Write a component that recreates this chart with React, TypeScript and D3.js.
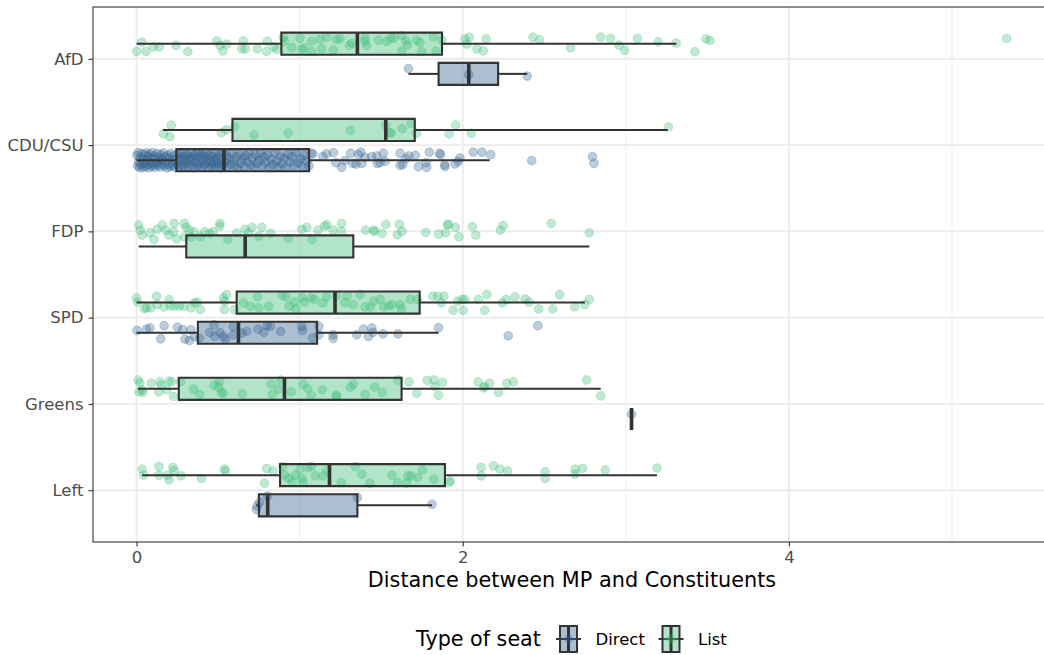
import { useEffect, useRef } from "react";
import * as d3 from "d3";

const parties = ["AfD", "CDU/CSU", "FDP", "SPD", "Greens", "Left"];
const seatTypes = ["Direct", "List"];
const seatColors = ["#2f5f8f", "#3cbb75"];
const xTicks = [0, 2, 4];
const xMinorTicks = [1, 3, 5];
const xDomain = [-0.267, 5.607];

// box statistics; lane = dodge slot the box sits in
const boxStats = [
  { party: "AfD", type: "List", lane: "List", lo: 0.0, q1: 0.888, med: 1.354, q3: 1.873, hi: 3.31 },
  { party: "AfD", type: "Direct", lane: "Direct", lo: 1.667, q1: 1.852, med: 2.037, q3: 2.217, hi: 2.396 },
  { party: "CDU/CSU", type: "List", lane: "List", lo: 0.162, q1: 0.588, med: 1.528, q3: 1.706, hi: 3.257 },
  { party: "CDU/CSU", type: "Direct", lane: "Direct", lo: 0.0, q1: 0.244, med: 0.536, q3: 1.058, hi: 2.165 },
  { party: "FDP", type: "List", lane: "Direct", lo: 0.013, q1: 0.305, med: 0.666, q3: 1.329, hi: 2.776 },
  { party: "SPD", type: "List", lane: "List", lo: 0.0, q1: 0.614, med: 1.217, q3: 1.736, hi: 2.749 },
  { party: "SPD", type: "Direct", lane: "Direct", lo: 0.0, q1: 0.376, med: 0.625, q3: 1.107, hi: 1.852 },
  { party: "Greens", type: "List", lane: "List", lo: 0.01, q1: 0.259, med: 0.907, q3: 1.625, hi: 2.846 },
  { party: "Greens", type: "Direct", lane: "Direct", lo: 3.035, q1: 3.035, med: 3.035, q3: 3.035, hi: 3.035 },
  { party: "Left", type: "List", lane: "List", lo: 0.034, q1: 0.88, med: 1.183, q3: 1.891, hi: 3.191 },
  { party: "Left", type: "Direct", lane: "Direct", lo: 0.735, q1: 0.75, med: 0.804, q3: 1.354, hi: 1.812 },
];

// jittered MPs: [distance, vertical jitter (-1..1)]
const afdList = [
  [0.032, -0.2], [0.001, 0.96], [0.058, 0.96], [0.103, 0.39], [0.14, 0.39], [0.242, 0.21], [0.314, 1.0],
  [0.492, -0.36], [0.512, 0.21], [0.529, 0.89], [0.553, 0.05], [0.655, -0.36], [0.645, 0.64], [0.667, 0.64],
  [0.741, 0.64], [0.802, -0.29], [0.798, 0.96], [0.843, 0.39], [0.86, 0.71], [0.9, -0.79], [0.906, -0.29],
  [0.952, 0.46], [1.002, -0.7], [1.013, 0.71], [1.027, 0.55], [1.074, -0.29], [1.074, 1.0], [1.125, -0.54],
  [1.136, 0.64], [1.166, -0.86], [1.207, 0.8], [1.227, -0.54], [1.248, -0.61], [1.305, 0.21], [1.319, -0.04],
  [1.401, -0.7], [1.401, -0.29], [1.411, 0.21], [1.483, -0.45], [1.534, -0.29], [1.559, -0.7], [1.579, -0.7],
  [1.626, -1.0], [1.652, -0.36], [1.66, 0.14], [1.626, 0.89], [1.718, -0.45], [1.738, -0.11], [1.749, 1.0],
  [1.82, -0.86], [1.836, 0.89], [1.873, -0.45], [2.014, -0.61], [2.04, -0.79], [2.025, 0.05], [2.086, 0.64],
  [2.126, 0.89], [2.143, -0.61], [2.431, -0.82], [2.472, -0.49], [2.661, 0.51], [2.846, -0.82], [2.907, -0.66],
  [2.957, 0.18], [2.993, 0.84], [3.071, -0.66], [3.199, -0.24], [3.308, -0.08], [3.424, 1.0], [3.492, -0.61],
  [3.516, -0.41], [5.335, -0.66],
];
const afdDirect = [[1.667, -0.66], [2.037, 0.1], [2.396, 0.27]];

const cduList = [
  [0.213, -0.59], [0.165, 0.5], [0.204, 0.84], [0.52, 0.34], [0.551, 0], [0.602, -0.41], [0.719, 0.63],
  [0.929, 0.41], [1.311, 0.09], [1.528, -0.59], [1.552, 0.34], [1.562, 0.41], [1.63, -0.16], [1.685, -0.84],
  [1.716, 0.41], [1.916, 0.5], [1.957, -0.63], [2.053, 0.41], [3.261, -0.38],
];
const cduDirect = [
  [0.003, -0.6], [0.006, 0.7], [0.01, -0.95], [0.012, 0.2], [0.018, 0.9], [0.021, -0.3], [0.027, 0.55],
  [0.031, -0.8], [0.036, 0.95], [0.04, -0.1], [0.045, 0.4], [0.049, -0.65], [0.053, 0.8], [0.058, -0.9],
  [0.062, 0.1], [0.067, 0.6], [0.071, -0.45], [0.076, 0.95], [0.08, -0.75], [0.085, 0.3], [0.089, -0.2],
  [0.094, 0.75], [0.098, -0.95], [0.103, 0.5], [0.108, -0.5], [0.113, 0.9], [0.117, -0.15], [0.122, 0.35],
  [0.127, -0.85], [0.131, 0.65], [0.136, -0.35], [0.141, 0.05], [0.146, 0.85], [0.15, -0.7], [0.155, 0.45],
  [0.16, -0.05], [0.165, -0.9], [0.17, 0.7], [0.175, -0.4], [0.18, 0.2], [0.186, 0.95], [0.191, -0.6],
  [0.196, 0.55], [0.201, -0.25], [0.207, 0.8], [0.212, -0.85], [0.218, 0.15], [0.223, 0.6], [0.229, -0.55],
  [0.234, 0.9], [0.24, -0.1], [0.248, 0.45], [0.253, -0.8], [0.259, 0.75], [0.264, -0.3], [0.27, 0.1],
  [0.276, -0.95], [0.281, 0.6], [0.287, -0.5], [0.292, 0.9], [0.298, -0.15], [0.304, 0.35], [0.31, -0.7],
  [0.316, 0.8], [0.322, -0.4], [0.328, 0.05], [0.334, -0.9], [0.34, 0.55], [0.346, -0.2], [0.352, 0.95],
  [0.358, -0.6], [0.364, 0.25], [0.37, -0.85], [0.376, 0.7], [0.382, -0.35], [0.388, 0.45], [0.394, -0.75],
  [0.4, 0.85], [0.406, 0.0], [0.412, -0.55], [0.418, 0.6], [0.424, -0.95], [0.43, 0.3], [0.436, -0.25],
  [0.442, 0.9], [0.448, -0.65], [0.454, 0.15], [0.46, 0.75], [0.466, -0.45], [0.472, 0.5], [0.478, -0.85],
  [0.484, 0.05], [0.49, 0.8], [0.496, -0.3], [0.502, 0.4], [0.508, -0.7], [0.514, 0.95], [0.52, -0.1],
  [0.526, 0.6], [0.532, -0.9], [0.541, 0.25], [0.55, -0.6], [0.558, 0.85], [0.567, -0.2], [0.576, 0.5],
  [0.585, -0.9], [0.594, 0.1], [0.603, 0.7], [0.612, -0.45], [0.621, 0.95], [0.631, -0.75], [0.64, 0.35],
  [0.65, -0.15], [0.66, 0.8], [0.669, -0.55], [0.679, 0.2], [0.689, -0.95], [0.699, 0.6], [0.709, -0.3],
  [0.719, 0.9], [0.729, -0.7], [0.739, 0.4], [0.75, 0.0], [0.76, -0.85], [0.771, 0.75], [0.781, -0.4],
  [0.792, 0.3], [0.803, -0.65], [0.814, 0.95], [0.825, -0.1], [0.836, 0.55], [0.847, -0.9], [0.858, 0.15],
  [0.87, 0.8], [0.881, -0.5], [0.893, 0.45], [0.905, -0.25], [0.917, 0.9], [0.929, -0.75], [0.941, 0.2],
  [0.953, -0.45], [0.966, 0.65], [0.978, -0.95], [0.991, 0.35], [1.004, -0.2], [1.017, 0.85], [1.03, -0.6],
  [1.044, 0.1], [1.057, 0.7], [1.07, -0.85], [1.082, -0.78], [1.143, -0.44], [1.164, -0.78], [1.207, -0.94],
  [1.223, 0.31], [1.258, 0.89], [1.278, 0.06], [1.313, -0.86], [1.326, 0.39], [1.346, 0.48], [1.36, -0.69],
  [1.375, -1.0], [1.381, 0.39], [1.401, -0.36], [1.442, -0.44], [1.473, -0.53], [1.476, 0.39], [1.493, 0.31],
  [1.513, -0.86], [1.524, 0.14], [1.616, -0.86], [1.616, 0.64], [1.632, 0.56], [1.652, -0.19], [1.669, -0.53],
  [1.709, -0.61], [1.728, 0.81], [1.775, 0.31], [1.779, 0.89], [1.795, -1.0], [1.857, -0.86], [1.865, -0.69],
  [1.89, 0.56], [1.891, 0.81], [1.953, 0.48], [1.973, 0.14], [1.983, -0.28], [2.065, -1.0], [2.118, -1.0],
  [2.172, -0.69], [2.423, 0.06], [2.795, -0.44], [2.805, 0.39],
];

const fdpList = [
  [0.013, -0.79], [0.023, -0.16], [0.034, 0.46], [0.082, 0.18], [0.107, 1.0], [0.127, -0.25], [0.158, -0.79],
  [0.179, -0.16], [0.2, 0.46], [0.231, -1.0], [0.227, 0.05], [0.247, 0.93], [0.293, -1.0], [0.303, -0.5],
  [0.324, -0.16], [0.293, 0.68], [0.334, 0.68], [0.355, 0.05], [0.392, 0.68], [0.418, 0.05], [0.448, 0.25],
  [0.469, 0.05], [0.511, -1.0], [0.511, -0.66], [0.559, 1.0], [0.614, 0.18], [0.666, -0.25], [0.687, 0.18],
  [0.708, -0.5], [0.749, 0.59], [0.769, -0.5], [0.822, 0.25], [0.931, 0.88], [1.014, -0.25], [1.044, -0.5],
  [1.077, 1.0], [1.112, -0.16], [1.153, -0.66], [1.167, -0.83], [1.205, -0.16], [1.257, -1.0], [1.257, 0],
  [1.404, -0.16], [1.454, -0.16], [1.458, 0], [1.505, 0.25], [1.529, -0.88], [1.611, -0.88], [1.599, 0.43],
  [1.628, 0], [1.773, 0.13], [1.852, 0.34], [1.895, 0.18], [1.906, -0.88], [1.914, -0.83], [1.955, -0.5],
  [1.976, 0.68], [2.059, -0.58], [2.08, 0.46], [2.231, -0.16], [2.248, -0.75], [2.542, -1.0], [2.776, 0.18],
];

const spdList = [
  [0.0, -0.59], [0.007, -0.04], [0.048, 0.75], [0.061, 0.66], [0.086, 0.66], [0.123, -0.79], [0.127, 0.25],
  [0.169, 0.54], [0.2, -0.38], [0.206, 0.38], [0.231, 0.46], [0.262, 0.46], [0.289, 0.46], [0.334, 0.66],
  [0.355, 0.04], [0.372, -0.04], [0.392, 0.88], [0.532, -0.59], [0.552, -1.0], [0.541, -0.16], [0.538, 0.88],
  [0.6, 0.88], [0.655, 0.04], [0.697, 0.46], [0.749, 0.66], [0.742, -0.71], [0.811, 0.46], [0.894, -0.88],
  [0.915, -0.71], [0.936, 0.46], [0.967, -0.04], [0.977, 0.79], [1.015, -0.59], [1.029, -0.04], [1.07, -0.59],
  [1.091, -0.38], [1.143, 0.04], [1.164, -0.71], [1.226, -0.79], [1.278, 0.04], [1.292, -0.79], [1.329, 0.25],
  [1.371, -1.0], [1.402, 0.54], [1.433, 0.54], [1.454, -0.16], [1.495, -0.38], [1.516, 0.54], [1.547, 0.38],
  [1.568, 0.25], [1.616, 0.25], [1.624, 0.79], [1.677, -0.38], [1.723, -0.38], [1.817, -0.79], [1.847, -0.79],
  [1.868, 0.04], [1.885, -0.79], [1.941, 0.96], [1.968, -0.16], [1.997, -0.38], [2.003, 0.96], [2.013, -0.38],
  [2.096, -0.38], [2.134, 0.96], [2.148, -1.0], [2.242, 0.04], [2.266, -0.38], [2.32, -0.71], [2.383, -0.46],
  [2.407, -0.04], [2.465, 0.79], [2.552, 0.79], [2.594, -1.0], [2.687, 0.54], [2.749, 0.25], [2.776, -0.38],
];
const spdDirect = [
  [0.003, -0.29], [0.061, -0.46], [0.082, -0.59], [0.148, 0.75], [0.169, -0.88], [0.251, -0.71], [0.283, -0.38],
  [0.297, 0.79], [0.324, 0.96], [0.334, -0.38], [0.355, 0.46], [0.386, 0.66], [0.448, -0.04], [0.475, -1.0],
  [0.479, 0.46], [0.511, -0.04], [0.532, 0.46], [0.546, 0.79], [0.593, -0.79], [0.593, 0.25], [0.646, 0.04],
  [0.676, -0.16], [0.745, -0.46], [0.78, -0.04], [0.801, -0.88], [0.822, -0.79], [0.884, -0.16], [1.014, -0.79],
  [1.018, -0.29], [1.08, 0.63], [1.118, -0.79], [1.118, 0.25], [1.205, 0.25], [1.205, 0.71], [1.35, 0.25],
  [1.392, -0.46], [1.422, 0.46], [1.443, -0.59], [1.45, -0.04], [1.511, 0.13], [1.603, 0.13], [1.852, -0.63],
  [2.279, 0.38], [2.461, -0.88],
];

const greensList = [
  [0.01, -1.1], [0.02, -0.71], [0.015, 0.38], [0.034, 0.13], [0.039, 0.45], [0.09, -0.71], [0.144, -0.88],
  [0.151, -0.46], [0.137, 0.38], [0.199, -0.96], [0.215, -0.88], [0.185, 0.13], [0.227, 0.95], [0.269, -0.88],
  [0.349, 0.04], [0.386, 0.7], [0.476, -0.46], [0.508, -0.88], [0.504, -0.21], [0.521, 0.45], [0.532, 0.54],
  [0.649, 0.63], [0.826, -0.59], [0.833, 0.7], [0.884, -1.1], [0.872, 0.04], [0.95, 0.38], [1.021, -0.59],
  [1.049, -0.05], [1.072, 0.79], [1.138, 0.13], [1.225, 0.79], [1.227, 0.95], [1.312, -0.21], [1.33, -0.59],
  [1.401, 0.7], [1.46, -0.21], [1.507, 0.45], [1.603, -1.1], [1.671, -0.88], [1.719, 0.54], [1.782, -1.05],
  [1.824, -1.1], [1.829, -0.3], [1.852, 0.79], [1.876, -0.8], [2.094, -0.88], [2.129, -0.13], [2.134, -0.3],
  [2.165, -0.71], [2.219, 0.45], [2.27, -0.71], [2.31, -0.88], [2.759, -1.1], [2.846, 0.88],
];
const greensDirect = [[3.035, -0.6]];

const leftList = [
  [0.034, -0.75], [0.044, 0], [0.137, -1.09], [0.137, 0], [0.191, 0], [0.199, 0.59], [0.222, -0.96],
  [0.231, -0.54], [0.273, 0.09], [0.398, 0.41], [0.539, -0.75], [0.544, -0.54], [0.785, 1.0], [0.798, -0.84],
  [0.838, -0.54], [0.896, -1.09], [0.908, 0], [0.931, 0.41], [0.955, 0.84], [0.974, 0], [1.002, -0.75],
  [1.013, 0.41], [1.021, 0.91], [1.049, -0.96], [1.072, -1.09], [1.096, 0.09], [1.143, 0.09], [1.166, -0.54],
  [1.256, 0.91], [1.342, -1.09], [1.382, -0.13], [1.429, 1.0], [1.566, 0], [1.601, 0.91], [1.655, 1.0],
  [1.664, 0.09], [1.683, 0.09], [1.725, 0.29], [1.754, -0.66], [1.824, 0.5], [1.918, 0.91], [1.923, 0.71],
  [2.113, -0.96], [2.113, 0.09], [2.188, -1.16], [2.228, -0.75], [2.275, -0.54], [2.505, -0.41], [2.505, 0.41],
  [2.689, -0.75], [2.689, -0.13], [2.735, -0.84], [2.874, -0.63], [3.191, -0.88],
];
const leftDirect = [[0.735, 0.5], [0.739, 0.08], [0.755, -0.41], [0.804, -1.16], [1.354, -0.96], [1.812, -0.13]];

const pointGroups = [
  { party: "AfD", type: "List", lane: "List", values: afdList },
  { party: "AfD", type: "Direct", lane: "Direct", values: afdDirect },
  { party: "CDU/CSU", type: "List", lane: "List", values: cduList },
  { party: "CDU/CSU", type: "Direct", lane: "Direct", values: cduDirect },
  { party: "FDP", type: "List", lane: "center", values: fdpList },
  { party: "SPD", type: "List", lane: "List", values: spdList },
  { party: "SPD", type: "Direct", lane: "Direct", values: spdDirect },
  { party: "Greens", type: "List", lane: "List", values: greensList },
  { party: "Greens", type: "Direct", lane: "Direct", values: greensDirect },
  { party: "Left", type: "List", lane: "List", values: leftList },
  { party: "Left", type: "Direct", lane: "Direct", values: leftDirect },
];

const width = 1044;
const height = 655;
const panel = { left: 93, right: 1051, top: 7, bottom: 542 };
const font = "'DejaVu Sans', sans-serif";

export default function App() {
  const svgRef = useRef<SVGSVGElement>(null);

  useEffect(() => {
    const svg = d3.select(svgRef.current);
    svg.selectAll("*").remove();

    const x = d3.scaleLinear().domain(xDomain).range([panel.left, panel.right]);
    const y = d3.scalePoint().domain(parties).range([panel.top, panel.bottom]).padding(0.6);
    const step = y.step();
    const lane = d3
      .scalePoint()
      .domain(["List", "center", "Direct"])
      .range([-0.175 * step, 0.175 * step]);
    const boxHalf = 0.128 * step;
    const jitter = 0.093 * step;
    const color = d3.scaleOrdinal<string>().domain(seatTypes).range(seatColors);

    // panel background + grid
    svg.append("rect")
      .attr("x", panel.left).attr("y", panel.top)
      .attr("width", panel.right - panel.left).attr("height", panel.bottom - panel.top)
      .attr("fill", "white");

    svg.append("g").selectAll("line").data(xMinorTicks).join("line")
      .attr("x1", (d) => x(d)).attr("x2", (d) => x(d))
      .attr("y1", panel.top).attr("y2", panel.bottom)
      .attr("stroke", "#ebebeb").attr("stroke-width", 0.9);

    svg.append("g").selectAll("line").data(xTicks).join("line")
      .attr("x1", (d) => x(d)).attr("x2", (d) => x(d))
      .attr("y1", panel.top).attr("y2", panel.bottom)
      .attr("stroke", "#ebebeb").attr("stroke-width", 1.8);

    svg.append("g").selectAll("line").data(parties).join("line")
      .attr("x1", panel.left).attr("x2", panel.right)
      .attr("y1", (d) => y(d)!).attr("y2", (d) => y(d)!)
      .attr("stroke", "#ebebeb").attr("stroke-width", 1.8);

    // jittered points
    const pts = svg.append("g");
    pointGroups.forEach((g) => {
      const cy = y(g.party)! + lane(g.lane)!;
      pts.selectAll(null).data(g.values).enter().append("circle")
        .attr("cx", (d) => x(d[0]))
        .attr("cy", (d) => cy + d[1] * jitter)
        .attr("r", 4.4)
        .attr("fill", color(g.type))
        .attr("fill-opacity", 0.32)
        .attr("stroke", color(g.type))
        .attr("stroke-opacity", 0.32)
        .attr("stroke-width", 0.8);
    });

    // boxplots
    const boxes = svg.append("g").selectAll("g").data(boxStats).join("g");
    const cyOf = (d) => y(d.party)! + lane(d.lane)!;

    boxes.append("line")
      .attr("x1", (d) => x(d.lo)).attr("x2", (d) => x(d.q1))
      .attr("y1", cyOf).attr("y2", cyOf)
      .attr("stroke", "#333333").attr("stroke-width", 2);
    boxes.append("line")
      .attr("x1", (d) => x(d.q3)).attr("x2", (d) => x(d.hi))
      .attr("y1", cyOf).attr("y2", cyOf)
      .attr("stroke", "#333333").attr("stroke-width", 2);
    boxes.append("path")
      .attr("d", (d) => {
        const c = cyOf(d);
        return `M${x(d.q1)},${c - boxHalf}H${x(d.q3)}V${c + boxHalf}H${x(d.q1)}Z`;
      })
      .attr("fill", (d) => color(d.type))
      .attr("fill-opacity", 0.4)
      .attr("stroke", "#333333")
      .attr("stroke-width", 2.1);
    boxes.append("line")
      .attr("x1", (d) => x(d.med)).attr("x2", (d) => x(d.med))
      .attr("y1", (d) => cyOf(d) - boxHalf).attr("y2", (d) => cyOf(d) + boxHalf)
      .attr("stroke", "#333333").attr("stroke-width", 3.6);

    // panel border
    svg.append("rect")
      .attr("x", panel.left).attr("y", panel.top)
      .attr("width", panel.right - panel.left).attr("height", panel.bottom - panel.top)
      .attr("fill", "none").attr("stroke", "#333333").attr("stroke-width", 1.1);

    // axes
    const xAxis = svg.append("g")
      .attr("transform", `translate(0,${panel.bottom})`)
      .call(d3.axisBottom(x).tickValues(xTicks).tickFormat(d3.format("d")).tickSize(4.5).tickPadding(5));
    const yAxis = svg.append("g")
      .attr("transform", `translate(${panel.left},0)`)
      .call(d3.axisLeft(y).tickSize(4.5).tickPadding(5));
    [xAxis, yAxis].forEach((a) => {
      a.select(".domain").remove();
      a.selectAll("line").attr("stroke", "#333333").attr("stroke-width", 1.1);
      a.selectAll("text").attr("fill", "#4d4d4d").style("font-family", font).style("font-size", "16.5px");
    });

    svg.append("text")
      .attr("x", (panel.left + panel.right) / 2)
      .attr("y", 587)
      .attr("text-anchor", "middle")
      .style("font-family", font).style("font-size", "20.8px")
      .text("Distance between MP and Constituents");

    // legend
    const legendY = 639;
    svg.append("text")
      .attr("x", 416).attr("y", legendY + 7.2)
      .style("font-family", font).style("font-size", "20.7px")
      .text("Type of seat");

    const keyX = [568.5, 671];
    seatTypes.forEach((t, i) => {
      const kx = keyX[i];
      const k = svg.append("g");
      k.append("line")
        .attr("x1", kx - 12.5).attr("x2", kx + 12.5)
        .attr("y1", legendY).attr("y2", legendY)
        .attr("stroke", "#333333").attr("stroke-width", 2);
      k.append("rect")
        .attr("x", kx - 8.5).attr("y", legendY - 13)
        .attr("width", 17).attr("height", 26)
        .attr("fill", color(t)).attr("fill-opacity", 0.4)
        .attr("stroke", "#333333").attr("stroke-width", 2);
      k.append("line")
        .attr("x1", kx).attr("x2", kx)
        .attr("y1", legendY - 13).attr("y2", legendY + 13)
        .attr("stroke", "#333333").attr("stroke-width", 3);
      k.append("circle")
        .attr("cx", kx).attr("cy", legendY).attr("r", 4.4)
        .attr("fill", color(t)).attr("fill-opacity", 0.32);
      k.append("text")
        .attr("x", kx + 27).attr("y", legendY + 5.9)
        .style("font-family", font).style("font-size", "16.5px")
        .text(t);
    });
  }, []);

  return (
    <svg
      ref={svgRef}
      width={width}
      height={height}
      style={{ position: "absolute", left: 0, top: 0, background: "white" }}
    />
  );
}
